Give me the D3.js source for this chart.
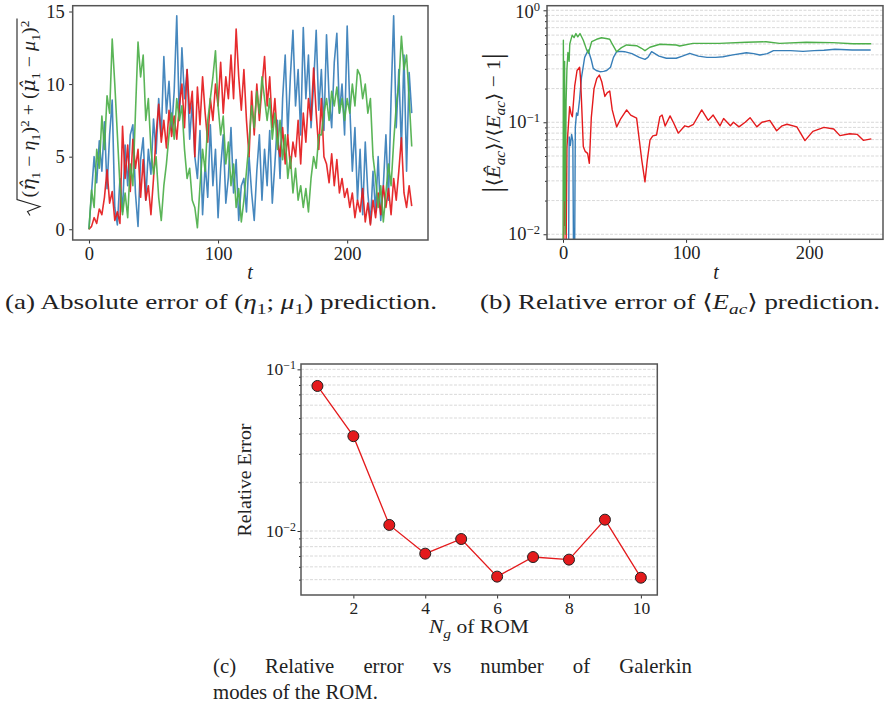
<!DOCTYPE html>
<html>
<head>
<meta charset="utf-8">
<script src="https://cdnjs.cloudflare.com/ajax/libs/d3/7.8.5/d3.min.js"></script>
<style>
body{margin:0;background:#fff;}
text{font-family:"Liberation Serif","DejaVu Serif",serif;fill:#222;}
</style>
</head>
<body>
<script>
// ---- (a) absolute error, sampled every 2 time units
const tA = d3.range(0, 251, 2);
const errBlueA = [0,2.5,5.0,3.2,6.1,4.0,7.4,2.8,6.5,8.9,
 1.5,0.3,3.5,1.2,5.8,3.0,6.5,7.2,2.5,0.2,
 4.8,6.3,2.0,5.5,3.8,7.6,5.2,9.0,6.4,11.9,
 8.0,10.2,6.8,9.5,14.7,7.5,12.5,9.0,11.0,6.2,
 8.8,5.0,3.5,6.8,1.0,4.5,2.2,7.2,3.0,5.5,
 0.8,4.2,6.5,1.8,3.6,7.0,2.5,4.8,0.6,3.0,
 3.5,1.2,5.0,2.5,0.6,4.0,6.5,2.0,5.5,3.0,
 6.8,1.8,4.5,7.5,3.5,9.0,12.0,6.5,10.5,13.7,
 8.5,11.0,6.5,13.9,9.0,12.0,7.0,10.0,13.7,8.2,
 11.0,6.8,13.4,9.0,7.0,11.5,13.5,8.0,10.0,6.5,
 14.0,8.5,4.0,7.0,2.0,5.5,1.0,6.0,2.5,0.4,
 4.0,1.2,5.0,0.6,3.0,6.5,2.0,9.0,14.7,7.0,
 11.0,5.5,12.0,4.0,10.8,8.0];
const errRedA = [0,0.2,0.8,0.4,1.4,1.0,2.2,4.1,1.8,2.6,
 0.6,1.2,0.4,7.1,3.5,5.8,2.6,6.2,4.2,5.5,
 2.2,4.8,2.0,3.0,1.0,3.5,6.5,8.6,6.0,7.5,
 5.6,8.2,6.4,7.8,6.2,8.5,10.0,7.0,11.0,8.0,
 9.5,5.0,9.8,7.2,10.5,8.0,6.0,9.0,7.5,10.0,
 8.5,11.5,8.0,10.5,9.0,12.0,9.0,13.8,10.5,8.2,
 11.0,7.5,5.0,9.5,6.5,10.0,7.5,9.8,11.9,8.5,
 10.5,7.0,9.0,6.2,5.0,7.0,4.5,6.5,4.2,6.0,
 5.0,7.5,4.5,8.0,6.0,9.0,7.5,11.1,8.0,5.5,
 9.0,5.0,4.5,3.2,5.2,3.0,4.8,2.5,3.5,2.2,
 2.8,1.5,2.5,0.8,2.0,1.2,2.8,0.5,1.8,0.3,
 2.0,0.8,2.5,1.0,3.0,1.5,2.8,1.0,3.5,2.0,
 4.0,6.3,2.5,1.5,3.0,1.6];
const errGreenA = [0,2.7,1.5,5.5,4.2,7.8,5.5,9.2,8.0,13.1,
 10.0,6.5,3.0,1.0,2.5,0.8,4.5,3.0,8.0,12.9,
 10.5,12.0,7.5,9.0,5.5,3.8,5.0,2.2,0.6,3.0,
 4.5,6.5,8.0,6.2,9.0,7.5,8.5,5.5,3.5,4.2,
 2.0,1.5,0.1,3.0,5.5,4.0,7.5,9.0,10.5,12.3,
 8.5,6.5,7.8,4.5,6.0,3.0,4.5,1.5,2.8,0.5,
 2.0,4.0,6.0,8.5,7.0,9.5,8.0,10.5,9.0,7.5,
 9.0,6.2,8.0,5.5,7.5,4.8,6.5,3.5,5.0,2.5,
 4.2,2.0,3.0,1.5,2.8,1.2,3.5,5.0,4.2,6.5,
 6.5,8.0,9.0,7.5,9.5,8.5,9.8,8.0,9.0,7.5,
 9.0,8.0,10.0,8.5,11.0,10.6,9.0,10.0,8.0,9.0,
 5.0,3.5,1.5,3.0,0.5,2.5,4.5,3.0,6.0,8.5,
 10.0,13.3,11.0,12.0,9.0,5.7];

// ---- (b) relative error of <E_ac>
const tBlueB = [3,4.5,5,6,7,8,8.6,9.4,10,11,12,13.5,15,17.6,20.5,23,24.6,27,30,33,35.5,38.6,41,43.6,47,50,56,62,66.6,69,72,78,84,92,97,103,110,117,124,130,138,149,155,160,166,171,185,195,204,212,221,235,250];
const relBlueB = [0.005,0.005,0.074,0.062,0.078,0.068,0.005,0.005,0.09,0.121,0.115,0.16,0.25,0.38,0.442,0.36,0.303,0.29,0.283,0.285,0.29,0.31,0.38,0.427,0.43,0.427,0.41,0.38,0.365,0.38,0.427,0.39,0.373,0.373,0.39,0.413,0.39,0.38,0.38,0.385,0.40,0.418,0.41,0.399,0.41,0.436,0.436,0.43,0.436,0.44,0.449,0.442,0.442];
const tRedB = [0.5,1,1.5,2,2.6,3.2,4.3,5.4,6.5,7.6,9.5,11.4,13.5,14.2,15,16.5,18,20,21.4,23,25.2,27.5,29.5,31.5,34,36,38,40,43.6,47,51.7,55,59.8,62,64,66.6,68.5,70.7,73,76,78.7,80.5,83,87,90,93.7,99,102,106,112.7,118,122,127.6,130.5,136,138.5,143,148,152,157.5,161.6,168,173.6,178,182,190,196.6,203,212,220,225,233,239,244,250.5];
const relRedB = [0.004,0.037,0.012,0.03,0.009,0.06,0.091,0.138,0.12,0.112,0.21,0.29,0.31,0.25,0.158,0.0605,0.055,0.0528,0.043,0.11,0.20,0.247,0.264,0.23,0.17,0.184,0.19,0.129,0.091,0.108,0.129,0.116,0.109,0.0695,0.046,0.0294,0.046,0.0695,0.0755,0.077,0.112,0.116,0.0927,0.114,0.098,0.080,0.093,0.091,0.096,0.129,0.104,0.116,0.093,0.108,0.093,0.10,0.091,0.10,0.11,0.091,0.10,0.104,0.084,0.093,0.096,0.091,0.0686,0.083,0.09,0.087,0.076,0.079,0.078,0.069,0.071];
const tGreenB = [0,0.3,0.8,1.3,1.8,2.5,3.2,4,5,5.5,6.5,7.5,9,10.5,12,13.8,16.5,19,20.6,23.3,27.3,31.3,35,38,39.4,43.5,47.5,51.7,59.8,63.8,66.6,70.6,78.7,92,94.8,105.6,127,149,165,176,197.6,219,235.5,250.4];
const relGreenB = [0.004,0.54,0.02,0.35,0.01,0.15,0.3,0.42,0.35,0.5,0.55,0.6,0.57,0.62,0.58,0.62,0.54,0.45,0.413,0.524,0.551,0.569,0.56,0.551,0.514,0.427,0.464,0.49,0.483,0.458,0.436,0.468,0.497,0.49,0.48,0.507,0.507,0.518,0.524,0.507,0.518,0.514,0.503,0.503];

// ---- (c) relative error vs number of Galerkin modes
const nModes = [1,2,3,4,5,6,7,8,9,10];
const romErr = [0.0789,0.0386,0.0109,0.00724,0.00892,0.00522,0.00690,0.00665,0.01175,0.00514];

const RED="#e41a1c", BLUE="#377eb8", GREEN="#4daf4a";

const svg=d3.select("body").append("svg").attr("width",884).attr("height",708);

// math-ish text: parts are strings or [string, "i sub sup big dv"]
function rich(t,parts,size){
  let shift=0;
  parts.forEach(p=>{
    const s=typeof p==="string"?p:p[0];
    const k=typeof p==="string"?[]:p[1].split(" ");
    let target=0,fs=size;
    if(k.includes("sub")){target=size*0.25;fs=size*0.72;}
    if(k.includes("sup")){target=-size*0.36;fs=size*0.68;}
    if(k.includes("big")){target=size*0.12;fs=size*1.5;}
    const ts=t.append("tspan").attr("dy",(target-shift).toFixed(2)).attr("font-size",fs).text(s);
    if(k.includes("i")) ts.attr("font-style","italic");
    if(k.includes("dv")) ts.style("font-family","'DejaVu Serif'");
    shift=target;
  });
  return t;
}
function styleAxis(g,fs){
  g.attr("font-family",null).attr("font-size",fs).attr("color","#333");
  g.select(".domain").remove();
  g.selectAll(".tick text").attr("fill","#222");
}
function frame(x0,y0,x1,y1){
  svg.append("rect").attr("x",x0).attr("y",y0).attr("width",x1-x0).attr("height",y1-y0)
   .attr("fill","none").attr("stroke","#555").attr("stroke-width",1.5);
}
function clip(id,x0,y0,x1,y1){
  svg.append("clipPath").attr("id",id).append("rect")
   .attr("x",x0).attr("y",y0).attr("width",x1-x0).attr("height",y1-y0);
}
function minorVals(lo,hi){
  const out=[];
  for(let k=-3;k<=1;k++) for(let m=1;m<=9;m++){const v=m*Math.pow(10,k); if(v>=lo&&v<=hi) out.push(v);}
  return out;
}

// ================= panel (a)
const xA=d3.scaleLinear([-12.6,262.6],[72.7,428]);
const yA=d3.scaleLinear([-0.74,15.4],[240,5.7]);
clip("clipA",72.7,5.7,428,240);
const lineA=d3.line().x((d,i)=>xA(tA[i])).y(d=>yA(d));
const ga=svg.append("g").attr("clip-path","url(#clipA)");
[[errBlueA,BLUE],[errRedA,RED],[errGreenA,GREEN]].forEach(([s,c])=>{
  ga.append("path").datum(s).attr("d",lineA).attr("fill","none").attr("stroke",c)
   .attr("stroke-width",1.6).attr("stroke-linejoin","round").attr("opacity",0.92);
});
svg.append("g").attr("transform","translate(0,240)")
 .call(d3.axisBottom(xA).tickValues([0,100,200]).tickSize(3.5).tickPadding(3.5))
 .call(g=>styleAxis(g,18.5));
svg.append("g").attr("transform","translate(72.7,0)")
 .call(d3.axisLeft(yA).tickValues([0,5,10,15]).tickSize(3.5).tickPadding(4.5))
 .call(g=>styleAxis(g,18.5));
frame(72.7,5.7,428,240);
svg.append("text").attr("x",250).attr("y",279).attr("text-anchor","middle")
 .attr("font-size",20).attr("font-style","italic").text("t");
// y label with radical
{
  const g=svg.append("g").attr("transform","translate(35,118) rotate(-90)");
  const ex=g.append("text").attr("font-size",18);
  rich(ex,["(",["η̂","i dv"],["1","sub"]," − ",["η","i"],["1","sub"],")",["2","sup"]," + (",["μ̂","i dv"],["1","sub"]," − ",["μ","i"],["1","sub"],")",["2","sup"]],18);
  const W=177, R=18, x0=-(W+R)/2;
  ex.attr("x",x0+R).attr("textLength",W).attr("lengthAdjust","spacingAndGlyphs");
  g.append("path").attr("d",`M${x0},-5 L${x0+4},-7.5 L${x0+9},5 L${x0+16},-18 L${x0+R+W+2},-18`)
   .attr("fill","none").attr("stroke","#222").attr("stroke-width",1.1);
}

// ================= panel (b)
const xB=d3.scaleLinear([-13,260],[547,883]);
const yB=d3.scaleLog([Math.pow(10,-2.045),Math.pow(10,0.041)],[239.3,5.7]);
clip("clipB",547,5.7,883,239.3);
const gridB=minorVals(yB.domain()[0],yB.domain()[1]);
svg.append("g").selectAll("line").data(gridB).join("line")
 .attr("x1",547).attr("x2",883).attr("y1",d=>yB(d)).attr("y2",d=>yB(d))
 .attr("stroke","#cfcfcf").attr("stroke-width",0.8).attr("stroke-dasharray","3,1.5");
const gb=svg.append("g").attr("clip-path","url(#clipB)");
[[tBlueB,relBlueB,BLUE],[tRedB,relRedB,RED],[tGreenB,relGreenB,GREEN]].forEach(([t,s,c])=>{
  const ln=d3.line().x((d,i)=>xB(t[i])).y(d=>yB(d));
  gb.append("path").datum(s).attr("d",ln).attr("fill","none").attr("stroke",c)
   .attr("stroke-width",1.4).attr("stroke-linejoin","round");
});
svg.append("g").attr("transform","translate(0,239.3)")
 .call(d3.axisBottom(xB).tickValues([0,100,200]).tickSize(3.5).tickPadding(3.5))
 .call(g=>styleAxis(g,18.5));
svg.append("g").attr("transform","translate(547,0)")
 .call(d3.axisLeft(yB).tickValues(gridB.filter(v=>![0.01,0.1,1].includes(v))).tickSize(2).tickFormat(""))
 .call(g=>styleAxis(g,18.5));
svg.append("g").attr("transform","translate(547,0)")
 .call(d3.axisLeft(yB).tickValues([0.01,0.1,1]).tickSize(3.5).tickFormat(""))
 .call(g=>styleAxis(g,18.5));
[[0.01,"−2"],[0.1,"−1"],[1,"0"]].forEach(([v,e])=>{
  const t=svg.append("text").attr("x",540).attr("y",Math.max(yB(v)+6,18)).attr("text-anchor","end").attr("font-size",18.5);
  rich(t,["10",[e,"sup"]],18.5);
});
frame(547,5.7,883,239.3);
svg.append("text").attr("x",716).attr("y",279).attr("text-anchor","middle")
 .attr("font-size",20).attr("font-style","italic").text("t");
{
  const g=svg.append("g").attr("transform","translate(500,123) rotate(-90)");
  const t=g.append("text").attr("text-anchor","middle").attr("font-size",19)
   .attr("textLength",140).attr("lengthAdjust","spacingAndGlyphs");
  rich(t,[["|","big"],"⟨",["Ê","i"],["ac","sub i"],"⟩/⟨",["E","i"],["ac","sub i"],"⟩ − 1",["|","big"]],19);
}

// ================= panel (c)
const xC=d3.scaleLinear([0.543,10.457],[301,657.3]);
const yC=d3.scaleLog([Math.pow(10,-2.396),Math.pow(10,-0.967)],[595,364]);
const gridC=minorVals(yC.domain()[0],yC.domain()[1]);
svg.append("g").selectAll("line").data(gridC).join("line")
 .attr("x1",301).attr("x2",657.3).attr("y1",d=>yC(d)).attr("y2",d=>yC(d))
 .attr("stroke","#cfcfcf").attr("stroke-width",0.8).attr("stroke-dasharray","3,1.5");
svg.append("path").datum(romErr)
 .attr("d",d3.line().x((d,i)=>xC(nModes[i])).y(d=>yC(d)))
 .attr("fill","none").attr("stroke",RED).attr("stroke-width",1.3);
svg.append("g").selectAll("circle").data(romErr).join("circle")
 .attr("cx",(d,i)=>xC(nModes[i])).attr("cy",d=>yC(d)).attr("r",5.5)
 .attr("fill",RED).attr("stroke","#222").attr("stroke-width",1);
svg.append("g").attr("transform","translate(0,595)")
 .call(d3.axisBottom(xC).tickValues([2,4,6,8,10]).tickSize(3.5).tickPadding(3))
 .call(g=>styleAxis(g,17.5));
svg.append("g").attr("transform","translate(301,0)")
 .call(d3.axisLeft(yC).tickValues(gridC.filter(v=>![0.01,0.1].includes(v))).tickSize(2).tickFormat(""))
 .call(g=>styleAxis(g,17.5));
svg.append("g").attr("transform","translate(301,0)")
 .call(d3.axisLeft(yC).tickValues([0.01,0.1]).tickSize(3.5).tickFormat(""))
 .call(g=>styleAxis(g,17.5));
[[0.01,"−2"],[0.1,"−1"]].forEach(([v,e])=>{
  const t=svg.append("text").attr("x",296).attr("y",yC(v)+6).attr("text-anchor","end").attr("font-size",17.5);
  rich(t,["10",[e,"sup"]],17.5);
});
frame(301,364,657.3,595);
{
  const t=svg.append("text").attr("x",479).attr("y",633).attr("text-anchor","middle").attr("font-size",18)
   .attr("textLength",100).attr("lengthAdjust","spacingAndGlyphs");
  rich(t,[["N","i"],["g","sub i"]," of ROM"],18);
  svg.append("text").attr("transform","translate(251,480) rotate(-90)").attr("text-anchor","middle")
   .attr("font-size",18).attr("textLength",113).attr("lengthAdjust","spacingAndGlyphs").text("Relative Error");
}

// ================= captions
function caption(x,y,len,parts){
  const t=svg.append("text").attr("x",x).attr("y",y).attr("font-size",21)
   .attr("textLength",len).attr("lengthAdjust","spacingAndGlyphs");
  rich(t,parts,21);
}
caption(5,309,432,["(a) Absolute error of (",["η","i"],["1","sub"],"; ",["μ","i"],["1","sub"],") prediction."]);
caption(480,309,400,["(b) Relative error of ⟨",["E","i"],["ac","sub i"],"⟩ prediction."]);
// (c) is a justified two-line caption: stretch glyphs like line 2, spread words on line 1
{
  const l2=svg.append("text").attr("font-size",21).text("modes of the ROM.");
  const r=165/l2.node().getComputedTextLength();
  l2.attr("transform",`translate(213,699) scale(${r.toFixed(4)},1)`);
  const l1=svg.append("text").attr("font-size",21).text("(c) Relative error vs number of Galerkin");
  const w0=l1.node().getComputedTextLength();
  const n=l1.text().split(" ").length-1;
  l1.attr("transform",`translate(213,673) scale(${r.toFixed(4)},1)`)
    .attr("word-spacing",((479/r-w0)/n).toFixed(2));
}
</script>
</body>
</html>
